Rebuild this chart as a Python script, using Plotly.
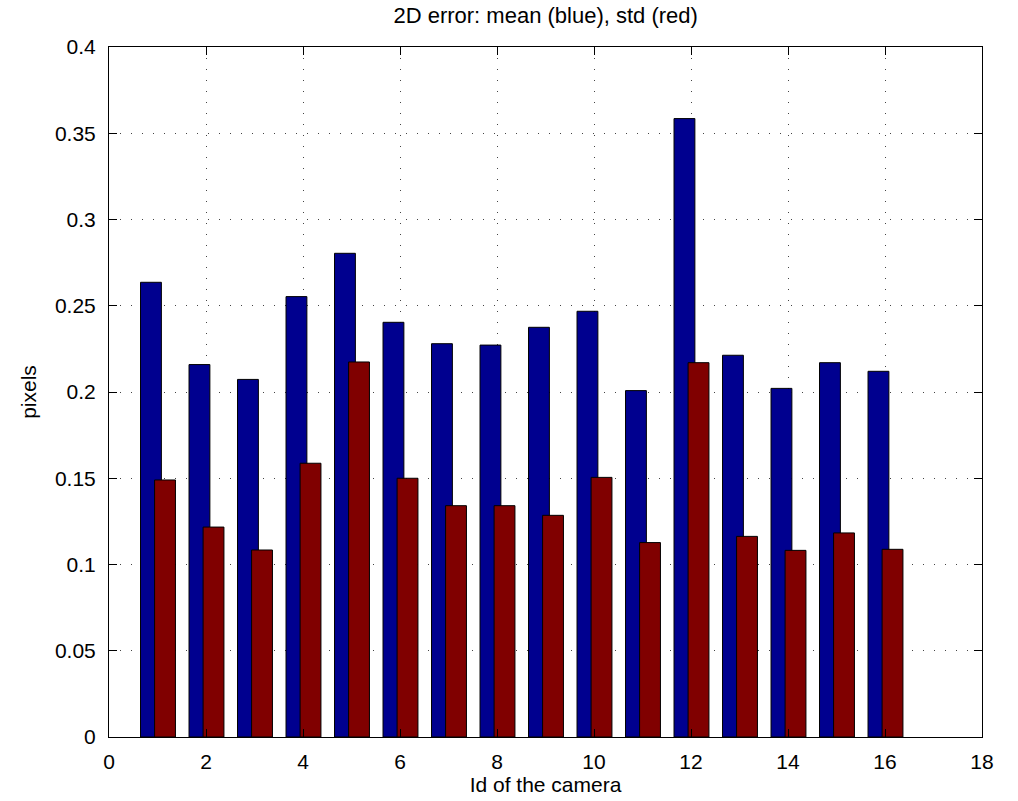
import plotly.graph_objects as go

# Per-camera reprojection error statistics
camera_ids = list(range(1, 17))
mean_err = [0.2636, 0.2159, 0.2073, 0.2553, 0.2804, 0.2404, 0.2280, 0.2272,
            0.2375, 0.2468, 0.2008, 0.3585, 0.2213, 0.2021, 0.2170, 0.2120]
std_err = [0.1490, 0.1217, 0.1084, 0.1587, 0.2174, 0.1500, 0.1341, 0.1341,
           0.1285, 0.1505, 0.1127, 0.2170, 0.1163, 0.1082, 0.1183, 0.1088]

x_ticks = list(range(0, 19, 2))
y_ticks = [0, 0.05, 0.1, 0.15, 0.2, 0.25, 0.3, 0.35, 0.4]
y_tick_text = ["0", "0.05", "0.1", "0.15", "0.2", "0.25", "0.3", "0.35", "0.4"]

FONT = "Liberation Sans, Arial, Helvetica, sans-serif"
BAR_W = 0.43

fig = go.Figure()
fig.add_trace(go.Bar(
    x=camera_ids, y=mean_err, name="mean",
    width=BAR_W, offset=-0.35,
    marker=dict(color="#00008F", line=dict(color="black", width=1)),
))
fig.add_trace(go.Bar(
    x=camera_ids, y=std_err, name="std",
    width=BAR_W, offset=-0.06,
    marker=dict(color="#800000", line=dict(color="black", width=1)),
))

axis_common = dict(
    showline=True, linecolor="black", linewidth=1, mirror="ticks",
    ticks="inside", ticklen=8, tickcolor="black", tickwidth=1,
    showgrid=True, gridcolor="#444444", gridwidth=1, griddash="1px,10px",
    zeroline=False, tickfont=dict(family=FONT, size=21, color="black"),
)

fig.update_layout(
    width=1018, height=801,
    margin=dict(l=109, r=36, t=47, b=64),
    paper_bgcolor="white", plot_bgcolor="white",
    barmode="overlay", showlegend=False,
    font=dict(family=FONT, color="black"),
    title=dict(text="2D error: mean (blue), std (red)", x=0.536, xanchor="center",
               y=0.981, yanchor="middle",
               font=dict(family=FONT, size=22, color="black")),
    xaxis=dict(range=[0, 18], tickvals=x_ticks, ticklabelstandoff=6,
               title=dict(text="Id of the camera", standoff=2,
                          font=dict(family=FONT, size=21, color="black")),
               **axis_common),
    yaxis=dict(range=[0, 0.4], tickvals=y_ticks, ticktext=y_tick_text,
               ticklabelstandoff=8,
               title=dict(text="pixels", standoff=12,
                          font=dict(family=FONT, size=21, color="black")),
               **axis_common),
)

fig.write_html("out.html")
